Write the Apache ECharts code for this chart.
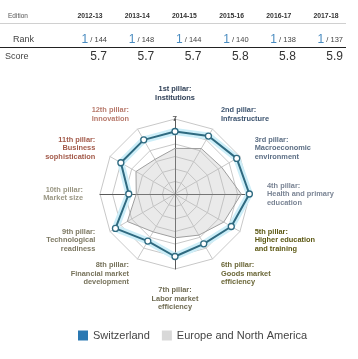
<!DOCTYPE html>
<html><head><meta charset="utf-8">
<script src="https://cdn.jsdelivr.net/npm/echarts@6/dist/echarts.min.js"></script>
<style>html,body{margin:0;padding:0;background:#fff}#c{width:358px;height:359px}</style>
</head><body><div id="c"></div>
<script>
const editions = ['2012-13','2013-14','2014-15','2015-16','2016-17','2017-18'];
const ranks = [1,1,1,1,1,1];
const totals = [144,148,144,140,138,137];
const scores = ['5.7','5.7','5.7','5.8','5.8','5.9'];

const pillars = [
  '1st pillar:\nInstitutions',
  '2nd pillar:\nInfrastructure',
  '3rd pillar:\nMacroeconomic\nenvironment',
  '4th pillar:\nHealth and primary\neducation',
  '5th pillar:\nHigher education\nand training',
  '6th pillar:\nGoods market\nefficiency',
  '7th pillar:\nLabor market\nefficiency',
  '8th pillar:\nFinancial market\ndevelopment',
  '9th pillar:\nTechnological\nreadiness',
  '10th pillar:\nMarket size',
  '11th pillar:\nBusiness\nsophistication',
  '12th pillar:\nInnovation'
];
const pillarColors = ['#2d3e55','#3e5570','#5d6f85','#7b8595','#5e5a16','#6b6738','#6f6b52','#77735c','#7e7a64','#9a9784','#a35a4a','#b87a6c'];
const switzerland = [6.0, 6.35, 6.7, 6.95, 6.2, 5.6, 6.0, 5.35, 6.5, 4.7, 6.0, 6.0];
const region = [4.65, 5.2, 5.3, 6.3, 5.5, 4.8, 4.5, 4.5, 5.4, 4.1, 4.6, 4.2];

// ECharts places radar indicators counter-clockwise; reorder so they run clockwise
const order = [0,11,10,9,8,7,6,5,4,3,2,1];
const ro = arr => order.map(i => arr[i]);

const chart = echarts.init(document.getElementById('c'));
const C = [175,194], R = 75;
const LINE = '#2f6a80';

const graphics = [];
graphics.push({type:'text', style:{text:'Edition', x:8, y:16, fontSize:6.5, fill:'#555', fontFamily:'Liberation Sans', verticalAlign:'middle'}});
editions.forEach((e,i)=>{
  const right = 107 + i*47.2;
  graphics.push({type:'text', style:{text:e, x:right-17, y:16, fontSize:6.8, fontWeight:'bold', fill:'#333', align:'center', verticalAlign:'middle', fontFamily:'Liberation Sans'}});
  graphics.push({type:'text', style:{text:'{a|'+ranks[i]+'}{b| / '+totals[i]+'}', x:right, y:40, align:'right', verticalAlign:'middle',
    rich:{a:{fontSize:12, fill:'#4a8cc0', fontFamily:'Liberation Sans'}, b:{fontSize:7.5, fill:'#444', fontFamily:'Liberation Sans'}}}});
  graphics.push({type:'text', style:{text:scores[i], x:right, y:57, align:'right', verticalAlign:'middle', fontSize:12, fill:'#333', fontFamily:'Liberation Sans'}});
});
graphics.push({type:'text', style:{text:'Rank', x:13, y:40, fontSize:9, fill:'#444', verticalAlign:'middle', fontFamily:'Liberation Sans'}});
graphics.push({type:'text', style:{text:'Score', x:5, y:57, fontSize:9, fill:'#444', verticalAlign:'middle', fontFamily:'Liberation Sans'}});
graphics.push({type:'line', shape:{x1:0,y1:23.5,x2:346,y2:23.5}, style:{stroke:'#d0d0d0', lineWidth:1}});
graphics.push({type:'line', shape:{x1:0,y1:47.5,x2:346,y2:47.5}, style:{stroke:'#222', lineWidth:1}});

chart.setOption({
  animation:false,
  textStyle:{fontFamily:'Liberation Sans'},
  graphic: graphics,
  legend:{
    left:73, top:325, itemWidth:10, itemHeight:10, itemGap:12, icon:'rect',
    textStyle:{fontSize:11, color:'#444', fontFamily:'Liberation Sans'},
    data:[{name:'Switzerland', itemStyle:{color:'#2a78b2', borderWidth:0}},
          {name:'Europe and North America', itemStyle:{color:'#d8d8d8', borderWidth:0}}]
  },
  radar:[
    {
      center:C, radius:R, startAngle:90, shape:'polygon', splitNumber:6, nameGap:17,
      indicator: ro(pillars).map((n,k)=>({name:n, min:1, max:7, color: ro(pillarColors)[k]})),
      axisName:{fontSize:7.4, fontWeight:'bold', lineHeight:8.5, fontFamily:'Liberation Sans'},
      splitLine:{lineStyle:{color:'#c8c8c8', width:1}},
      splitArea:{show:false},
      axisLine:{lineStyle:{color:'#c8c8c8', width:1}},
      axisTick:{show:false}, axisLabel:{show:false}
    },
    {
      center:C, radius:R, startAngle:90, shape:'polygon', splitNumber:6,
      indicator:[{name:'',min:1,max:7},{name:'',min:1,max:7},{name:'',min:1,max:7},{name:'',min:1,max:7}],
      axisName:{show:false},
      splitLine:{show:false}, splitArea:{show:false},
      axisLine:{lineStyle:{color:'#5a5a5a', width:1}},
      axisTick:{show:false}, axisLabel:{show:false}
    },
    {
      center:C, radius:R, startAngle:90, splitNumber:6,
      indicator:[{name:'',min:1,max:7}],
      axisName:{show:false},
      splitLine:{show:false}, splitArea:{show:false},
      axisLine:{show:false}, axisTick:{show:false},
      axisLabel:{show:true, margin:-2, fontSize:8, fontWeight:'bold', color:'#555', formatter: v => v===7 ? '7' : ''}
    }
  ],
  series:[
    {type:'radar', radarIndex:0, z:2, symbol:'none', silent:true,
      lineStyle:{color:'#9a9a9a', width:1}, itemStyle:{color:'#d8d8d8'},
      data:[{name:'Europe and North America', value: ro(region),
        areaStyle:{color:'rgba(185,185,185,0.42)'}, lineStyle:{color:'#9a9a9a', width:1}}]},
    {type:'radar', radarIndex:0, z:3, symbol:'none', silent:true,
      lineStyle:{color:'#cdeef8', width:7}, itemStyle:{color:'#cdeef8'},
      data:[{name:'band', value: ro(switzerland), lineStyle:{color:'#cdeef8', width:7}}]},
    {type:'radar', radarIndex:0, z:4, symbol:'circle', symbolSize:6,
      color: LINE,
      lineStyle:{color:LINE, width:2}, itemStyle:{color:'#fff', borderColor:LINE, borderWidth:1.3},
      data:[{name:'Switzerland', value: ro(switzerland),
        lineStyle:{color:LINE, width:2}, itemStyle:{color:'#fff', borderColor:LINE, borderWidth:1.3}}]}
  ]
});
</script></body></html>
